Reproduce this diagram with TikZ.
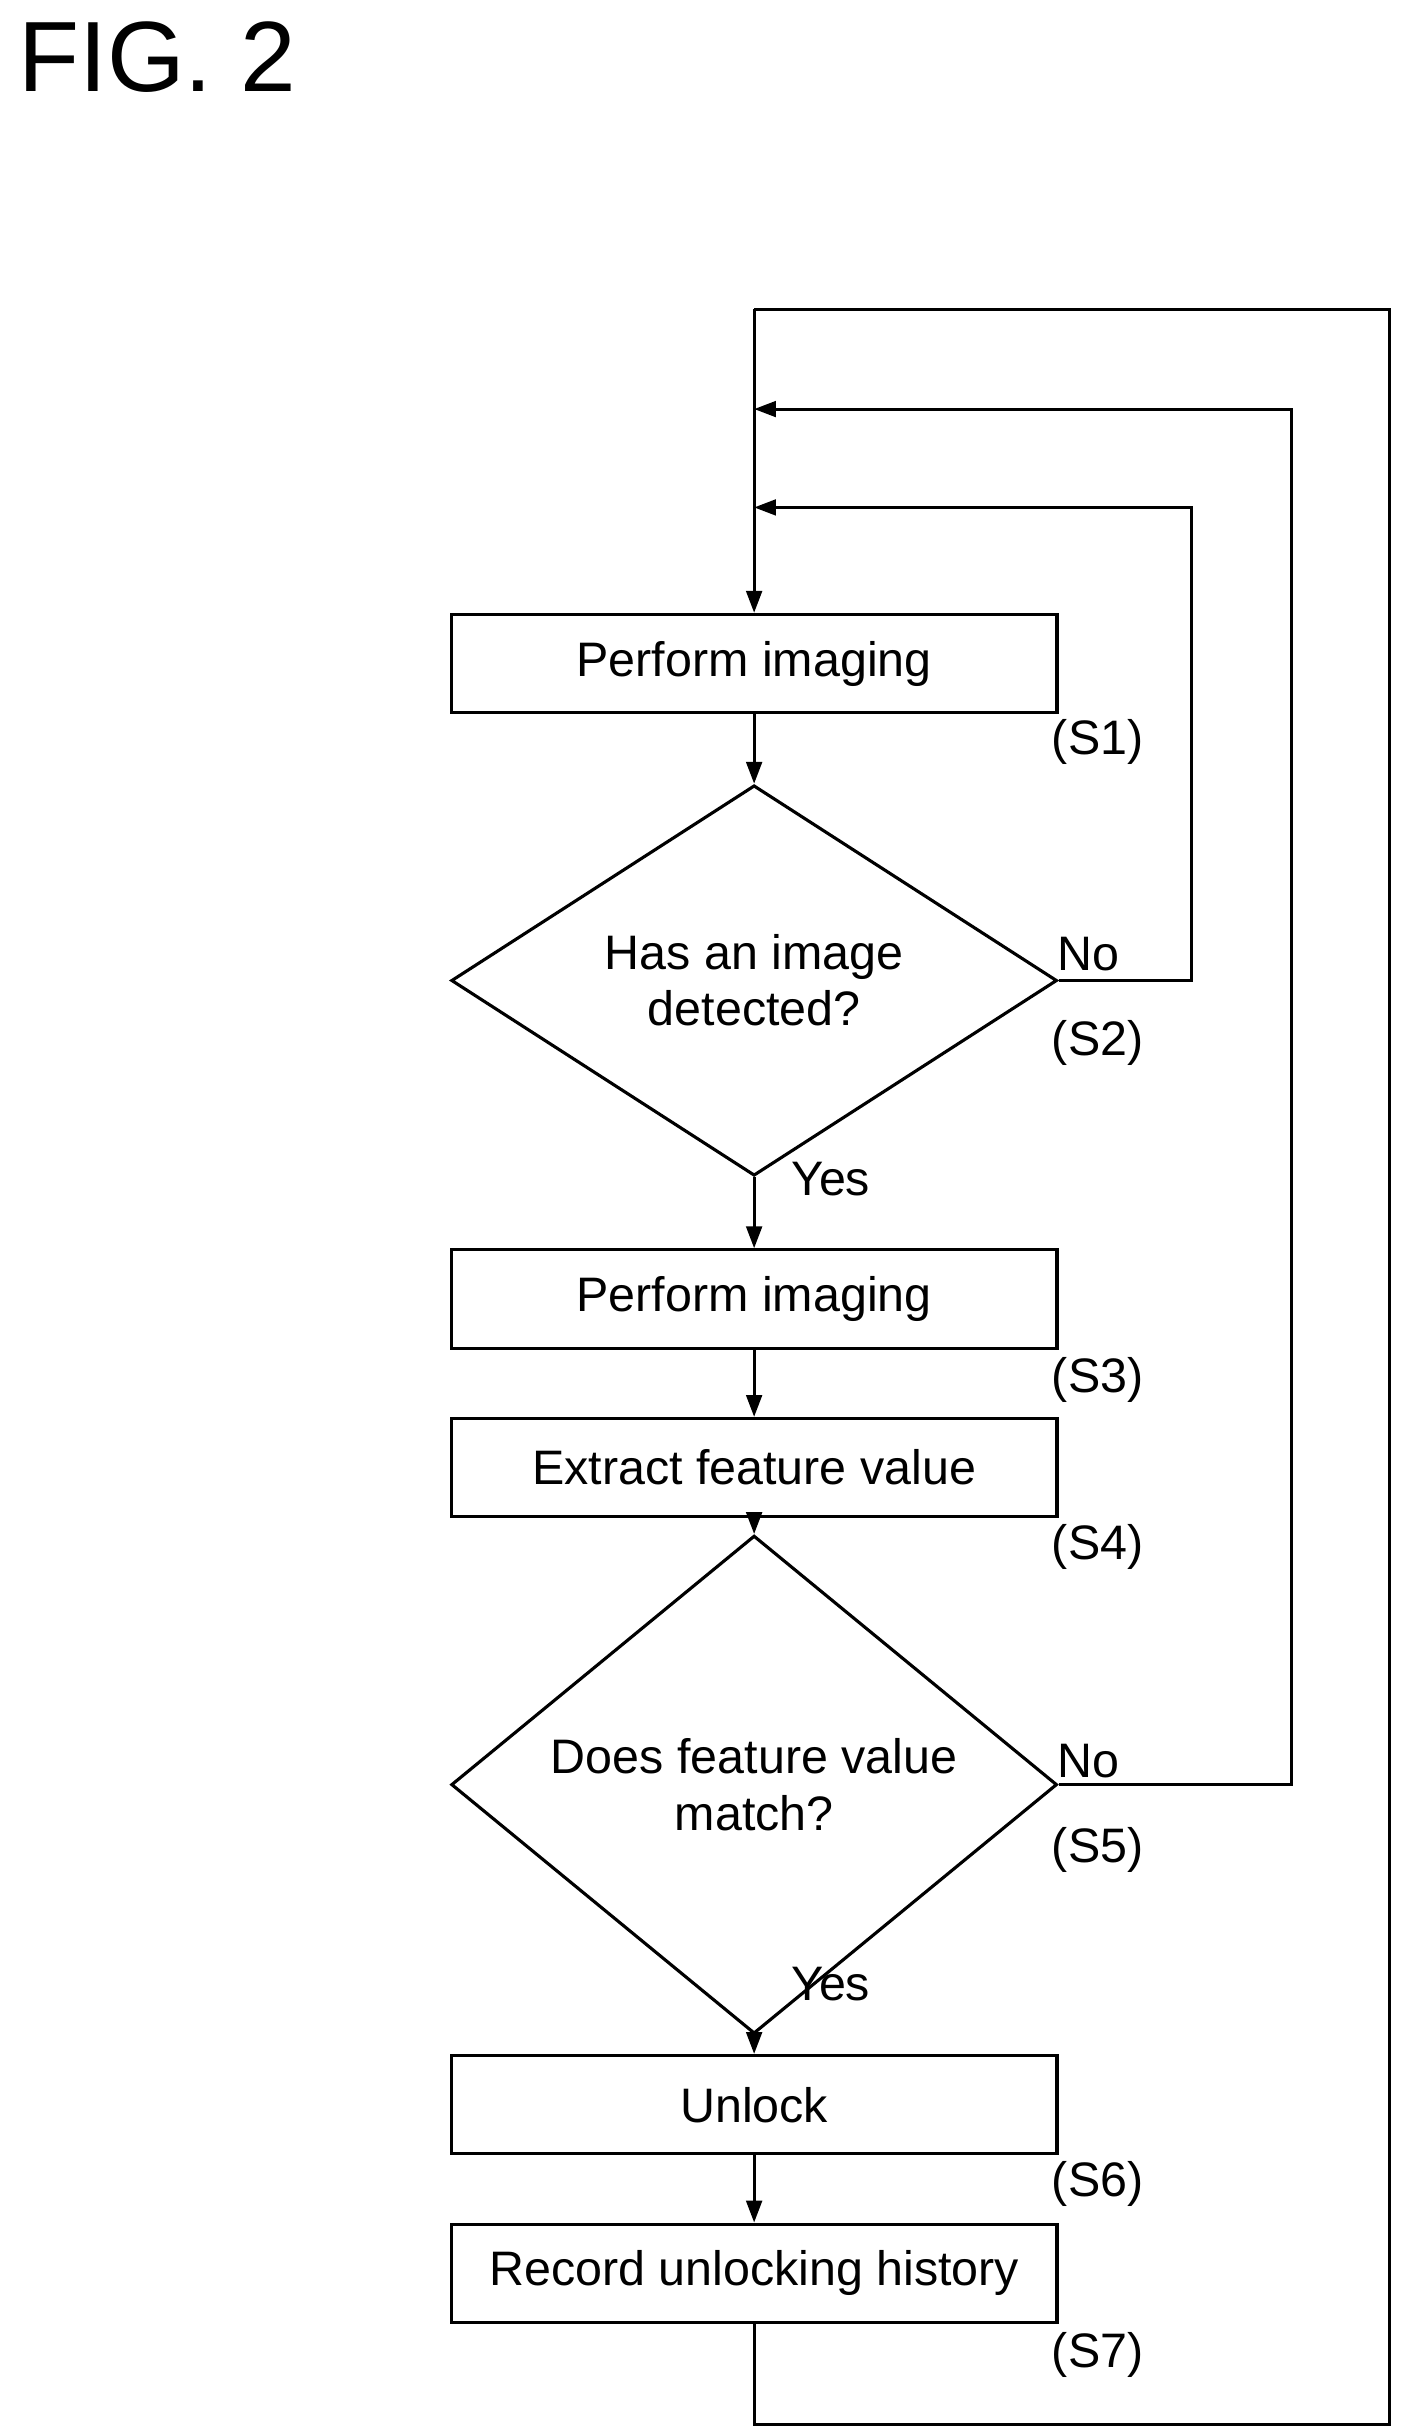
\documentclass[tikz,border=0pt]{standalone}
\usepackage{fontspec}
\setmainfont{Liberation Sans}
\usetikzlibrary{arrows.meta,shapes.geometric}
\begin{document}
\begin{tikzpicture}[x=0.5pt,y=-0.5pt,line width=1pt,
  every node/.style={font=\fontsize{15.5}{18}\selectfont},
  box/.style={draw,minimum width=194pt,minimum height=31.5pt,inner sep=0pt},
  dia/.style={draw,diamond,minimum width=194pt,minimum height=107pt,inner sep=0pt,align=center},
  lab/.style={anchor=center},
  arr/.style={-{Triangle[length=7pt,width=5pt]}}]
\useasboundingbox (0,0) rectangle (900,1557);
\node[anchor=north west,font=\fontsize{32}{36}\selectfont] (fig) at (4,6) {FIG. 2};
\node[box] (b1) at (483,425) {Perform imaging};
\node[dia] (d2) at (483,628) {Has an image\\detected?};
\node[box] (b3) at (483,832) {Perform imaging};
\node[box] (b4) at (483,940) {Extract feature value};
\node[dia] (d5) at (483,1143) {Does feature value\\match?};
\node[box] (b6) at (483,1348) {Unlock};
\node[box] (b7) at (483,1456) {Record unlocking history};
\node[lab] at (703,475) {(S1)};
\node[lab] at (703,668) {(S2)};
\node[lab] at (703,884) {(S3)};
\node[lab] at (703,991) {(S4)};
\node[lab] at (703,1185) {(S5)};
\node[lab] at (703,1399) {(S6)};
\node[lab] at (703,1508) {(S7)};
\node[lab] at (697,611) {No};
\node[lab] at (697,1128) {No};
\node[lab] at (532,755) {Yes};
\node[lab] at (532,1271) {Yes};
\coordinate (top) at (483,198);
\coordinate (j1) at (483,262);
\coordinate (j2) at (483,325);
\draw[arr] (top) -- (b1.north);
\draw[arr] (b1.south) -- (d2.north);
\draw[arr] (d2.south) -- (b3.north);
\draw[arr] (b3.south) -- (b4.north);
\draw[arr] (b4.south) -- (d5.north);
\draw[arr] (d5.south) -- (b6.north);
\draw[arr] (b6.south) -- (b7.north);
\draw[arr] (d2.east) -- (763,628) -- (763,325) -- (j2);
\draw[arr] (d5.east) -- (827,1143) -- (827,262) -- (j1);
\draw (b7.south) -- (483,1553) -- (890,1553) -- (890,198) -- (top);
\end{tikzpicture}
\end{document}
